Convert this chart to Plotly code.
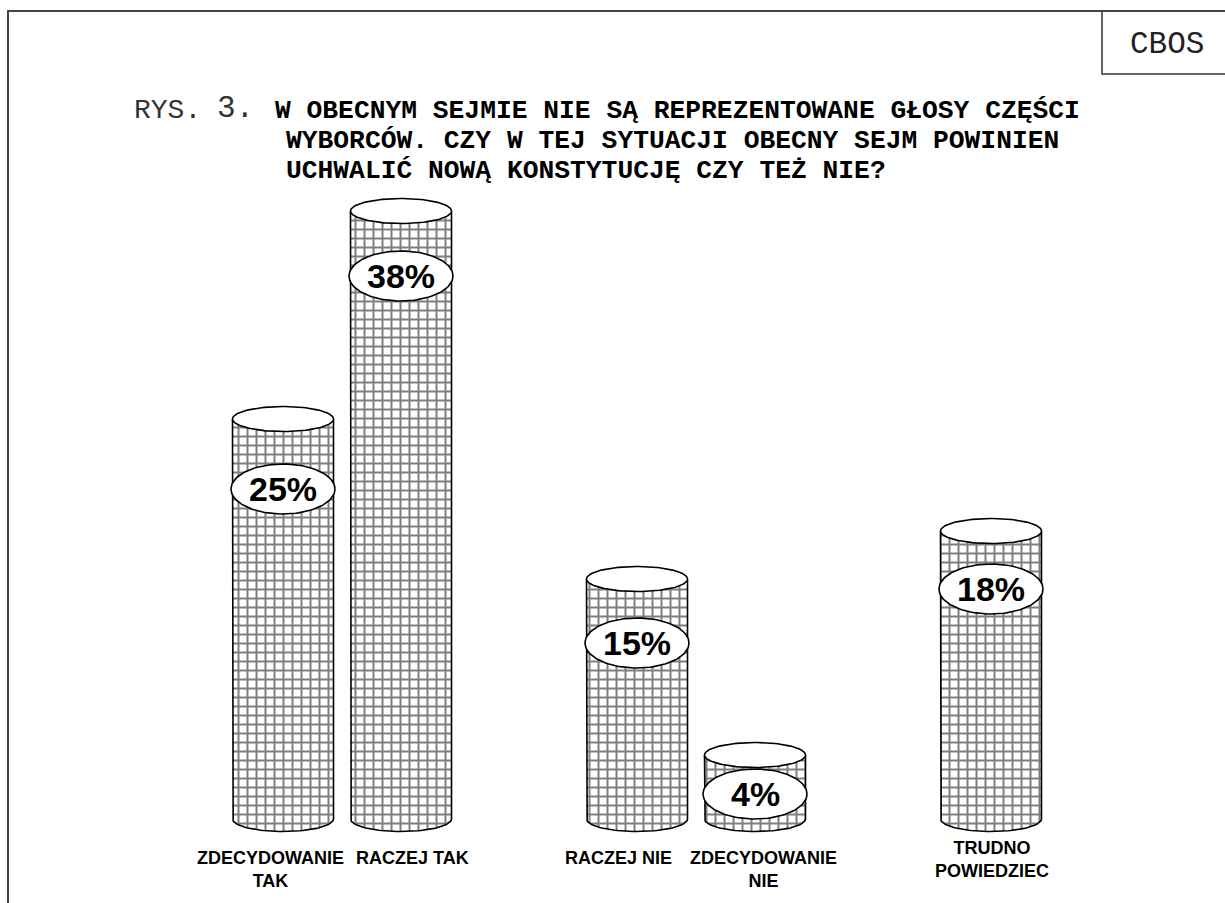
import numpy as np
import plotly.graph_objects as go

# ---------------- data ----------------
categories = ["ZDECYDOWANIE<br>TAK", "RACZEJ TAK", "RACZEJ NIE",
              "ZDECYDOWANIE<br>NIE", "TRUDNO<br>POWIEDZIEC"]
values = [25, 38, 15, 4, 18]
value_labels = ["25%", "38%", "15%", "4%", "18%"]
title_prefix = "RYS."
title_number = "3."
title_lines = [
    "W OBECNYM SEJMIE NIE SĄ REPREZENTOWANE GŁOSY CZĘŚCI",
    "WYBORCÓW. CZY W TEJ SYTUACJI OBECNY SEJM POWINIEN",
    "UCHWALIĆ NOWĄ KONSTYTUCJĘ CZY TEŻ NIE?",
]
source_label = "CBOS"

# ---------------- layout / style ----------------
W, H = 1225, 903
X0_PX, X_UNIT_PX = 283, 118      # pixel of slot 0, pixels per slot
Y0_PX, Y_UNIT_PX = 819, 16       # pixel of value 0, pixels per percent
slots = [0, 1, 3, 4, 6]
bar_half_px = 50.5
cap_ry_px = 12.5
lab_rx_px, lab_ry_px = 52, 25
label_offset_px = [70, 65, 64, 39, 58]      # label ellipse below top cap
cat_xshift = [-13, 11, -19, 8, 1]
cat_yshift = [0, 0, 0, 0, 10]

hw = bar_half_px / X_UNIT_PX
cap_ry = cap_ry_px / Y_UNIT_PX
lab_rx = lab_rx_px / X_UNIT_PX
lab_ry = lab_ry_px / Y_UNIT_PX

pattern = dict(shape="+", size=9, solidity=0.395, fgcolor="black", bgcolor="white")

fig = go.Figure()

# cylinder bodies
fig.add_trace(go.Bar(
    x=slots, y=values, width=2 * hw, base=0,
    marker=dict(color="white", line=dict(width=0), pattern=pattern),
    hoverinfo="skip",
))

t_low = np.linspace(np.pi, 2 * np.pi, 60)
t_full = np.linspace(0, 2 * np.pi, 120)

for sx, v, lab, off in zip(slots, values, value_labels, label_offset_px):
    # bottom half ellipse (patterned)
    bx = sx + hw * np.cos(t_low)
    by = cap_ry * np.sin(t_low)
    fig.add_trace(go.Scatter(
        x=np.concatenate([bx, [bx[0]]]), y=np.concatenate([by, [by[0]]]),
        mode="lines", fill="toself", fillcolor="white", fillpattern=pattern,
        line=dict(width=0), hoverinfo="skip"))
    # outline: left side, bottom arc, right side
    ox = np.concatenate([[sx - hw], bx, [sx + hw]])
    oy = np.concatenate([[v], by, [v]])
    fig.add_trace(go.Scatter(x=ox, y=oy, mode="lines",
                             line=dict(color="black", width=1.6), hoverinfo="skip"))
    # top cap
    fig.add_trace(go.Scatter(
        x=sx + hw * np.cos(t_full), y=v + cap_ry * np.sin(t_full),
        mode="lines", fill="toself", fillcolor="white",
        line=dict(color="black", width=1.6), hoverinfo="skip"))
    # value label ellipse
    ly = v - off / Y_UNIT_PX
    fig.add_trace(go.Scatter(
        x=sx + lab_rx * np.cos(t_full), y=ly + lab_ry * np.sin(t_full),
        mode="lines", fill="toself", fillcolor="white",
        line=dict(color="black", width=1.6), hoverinfo="skip"))
    fig.add_annotation(x=sx, y=ly, xref="x", yref="y", text="<b>" + lab + "</b>",
                       showarrow=False,
                       font=dict(family="Liberation Sans", size=34, color="black"),
                       xanchor="center", yanchor="middle")

# category labels
for sx, cat, xs, ys in zip(slots, categories, cat_xshift, cat_yshift):
    fig.add_annotation(x=sx, y=1 - 846 / H, xref="x", yref="paper",
                       text="<b>" + cat + "</b>", showarrow=False,
                       xanchor="center", yanchor="top", xshift=xs, yshift=ys,
                       align="center",
                       font=dict(family="Liberation Sans", size=18, color="black"))

# title
def py(p):
    return 1 - p / H

def px(p):
    return p / W

fig.add_annotation(x=px(132), y=py(110), xref="paper", yref="paper",
                   text=title_prefix, showarrow=False, xanchor="left", yanchor="middle",
                   font=dict(family="Liberation Mono", size=28, color="#333"))
fig.add_annotation(x=px(215), y=py(109), xref="paper", yref="paper",
                   text=title_number, showarrow=False, xanchor="left", yanchor="middle",
                   font=dict(family="Liberation Mono", size=31, color="#333"))
for i, (line, xl) in enumerate(zip(title_lines, [273, 284, 284])):
    fig.add_annotation(x=px(xl), y=py(111 + 30 * i), xref="paper", yref="paper",
                       text="<b>" + line + "</b>", showarrow=False,
                       xanchor="left", yanchor="middle",
                       font=dict(family="Liberation Mono", size=26.3, color="black"))

# source box
fig.add_annotation(x=px(1167), y=py(45), xref="paper", yref="paper",
                   text=source_label, showarrow=False, xanchor="center", yanchor="middle",
                   font=dict(family="Liberation Mono", size=31, color="#222"))

# frame lines
fig.add_shape(type="path", xref="paper", yref="paper",
              path=f"M {px(8)},{py(H)} L {px(8)},{py(11)} L 1,{py(11)}",
              line=dict(color="#444", width=2))
fig.add_shape(type="path", xref="paper", yref="paper",
              path=f"M {px(1102)},{py(11)} L {px(1102)},{py(74)} L 1,{py(74)}",
              line=dict(color="#333", width=1.5))

fig.update_layout(
    width=W, height=H,
    margin=dict(l=0, r=0, t=0, b=0),
    paper_bgcolor="white", plot_bgcolor="white",
    showlegend=False, hovermode=False,
    xaxis=dict(range=[-X0_PX / X_UNIT_PX, (W - X0_PX) / X_UNIT_PX], visible=False,
               fixedrange=True),
    yaxis=dict(range=[-(H - Y0_PX) / Y_UNIT_PX, Y0_PX / Y_UNIT_PX], visible=False,
               fixedrange=True),
)

fig.write_html("out.html", config={"displayModeBar": False},
               post_script="document.body.style.margin='0px';")
